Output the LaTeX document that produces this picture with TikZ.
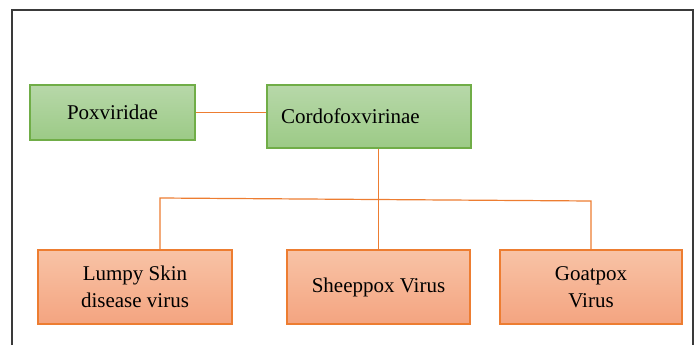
\documentclass[tikz,border=0pt]{standalone}
\usepackage{fontspec}
\setmainfont{Liberation Serif}
\definecolor{greenedge}{HTML}{70AD47}
\definecolor{greentop}{HTML}{B7D8A9}
\definecolor{greenbot}{HTML}{9CCA86}
\definecolor{orangeedge}{HTML}{ED7D31}
\definecolor{orangetop}{HTML}{F8C3A6}
\definecolor{orangebot}{HTML}{F4A480}
\definecolor{frame}{HTML}{3A3A3A}
\begin{document}
\begin{tikzpicture}[x=1pt, y=-1pt,
		family/.style={draw=greenedge, line width=1.3pt, top color=greentop, bottom color=greenbot, font=\fontsize{21}{27}\selectfont},
		virus/.style={draw=orangeedge, line width=1.3pt, top color=orangetop, bottom color=orangebot, align=center, font=\fontsize{21}{27}\selectfont, minimum height=74pt},
		link/.style={draw=orangeedge, line width=1.2pt}]
		\useasboundingbox (0,0) rectangle (698,345);
		\draw[frame, line width=1.5pt] (12,345) -- (12,10) -- (693,10) -- (693,345);

		\node[family, minimum width=165pt, minimum height=55pt] (pox) at (112.5,112.5) {Poxviridae};
		\node[family, minimum height=63pt, text width=176pt, inner xsep=14pt, align=left] (cordo) at (369,116.5) {Cordofoxvirinae};

		\node[virus, minimum width=194pt] (lsd) at (135,287) {Lumpy Skin\\disease virus};
		\node[virus, minimum width=183pt] (sheep) at (378.5,287) {Sheeppox Virus};
		\node[virus, minimum width=182pt] (goat) at (591,287) {Goatpox\\Virus};

		\coordinate (bl) at (160,198);
		\coordinate (br) at (591,201);

		\draw[link] (pox.east) -- (cordo.west |- pox.east);
		\draw[link] (sheep.north |- cordo.south) -- (sheep.north);
		\draw[link] (bl |- lsd.north) -- (bl) -- (br) -- (goat.north);

	\end{tikzpicture}
\end{document}
